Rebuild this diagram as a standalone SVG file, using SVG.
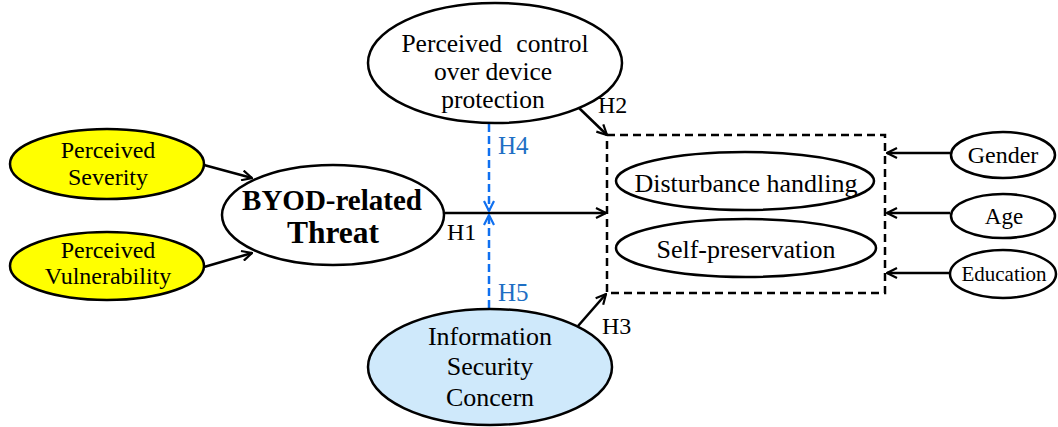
<svg xmlns="http://www.w3.org/2000/svg" width="1058" height="427" viewBox="0 0 1058 427" font-family="'Liberation Serif', Tinos, 'Times New Roman', serif">
<style>
text{font-family:'Liberation Serif',Tinos,'Times New Roman',serif;fill:#000;text-anchor:middle}
.n{stroke:#000;stroke-width:2.5}
.w{fill:#fff}
.y{fill:#ffff00}
.b{fill:#cfe9fb}
.c{stroke:#000;stroke-width:2.5;fill:none}
.d{stroke:#1070f0;stroke-width:2.5;fill:none;stroke-dasharray:8,4}
.lab{font-size:24px}
.blab{font-size:25px;fill:#1e6fc4;text-anchor:start}
</style>
<defs>
<marker id="a" viewBox="0 0 12 12" refX="11" refY="6" markerWidth="12" markerHeight="12" markerUnits="userSpaceOnUse" orient="auto">
<path d="M1,1 L11,6 L1,11" fill="none" stroke="#000" stroke-width="2.2"/>
</marker>
<marker id="ab" viewBox="0 0 12 12" refX="11" refY="6" markerWidth="12" markerHeight="12" markerUnits="userSpaceOnUse" orient="auto">
<path d="M1,1 L11,6 L1,11" fill="none" stroke="#1070f0" stroke-width="2.2"/>
</marker>
</defs>
<g id="connectors">
<line class="c" x1="204" y1="165" x2="252" y2="178" marker-end="url(#a)"/>
<line class="c" x1="204" y1="267" x2="252" y2="253" marker-end="url(#a)"/>
<line class="c" x1="445" y1="213" x2="606" y2="213" marker-end="url(#a)"/>
<line class="c" x1="578" y1="107" x2="607" y2="135" marker-end="url(#a)"/>
<line class="c" x1="578" y1="326" x2="606" y2="294" marker-end="url(#a)"/>
<line class="c" x1="950" y1="153" x2="887" y2="153" marker-end="url(#a)"/>
<line class="c" x1="950" y1="213" x2="887" y2="213" marker-end="url(#a)"/>
<line class="c" x1="950" y1="273" x2="887" y2="273" marker-end="url(#a)"/>
<line class="d" x1="489" y1="124" x2="489" y2="211" marker-end="url(#ab)"/>
<line class="d" x1="489" y1="308" x2="489" y2="215" marker-end="url(#ab)"/>
<text class="lab" x="447" y="240" style="text-anchor:start">H1</text>
<text class="lab" x="598" y="113" style="text-anchor:start">H2</text>
<text class="lab" x="602" y="334" style="text-anchor:start">H3</text>
<text class="blab" x="498" y="154">H4</text>
<text class="blab" x="498" y="301">H5</text>
</g>
<g id="outcomes-box">
<rect x="607" y="135" width="278" height="158" fill="none" stroke="#000" stroke-width="2.5" stroke-dasharray="8,5"/>
</g>
<g id="severity">
<ellipse class="n y" cx="107" cy="164" rx="97" ry="35"/>
<text x="108" y="158" font-size="24">Perceived</text>
<text x="108" y="185" font-size="24">Severity</text>
</g>
<g id="vulnerability">
<ellipse class="n y" cx="107" cy="266" rx="97" ry="34"/>
<text x="108" y="258" font-size="24">Perceived</text>
<text x="108" y="284" font-size="24">Vulnerability</text>
</g>
<g id="threat">
<ellipse class="n w" cx="333" cy="215" rx="111" ry="50"/>
<text x="332" y="210" font-size="29" font-weight="bold">BYOD-related</text>
<text x="333" y="243" font-size="31.5" font-weight="bold">Threat</text>
</g>
<g id="control">
<ellipse class="n w" cx="495" cy="63" rx="127" ry="60"/>
<text x="495" y="52" font-size="25.5" word-spacing="8">Perceived control</text>
<text x="493" y="80" font-size="25.5">over device</text>
<text x="493" y="108" font-size="25.5">protection</text>
</g>
<g id="concern">
<ellipse class="n b" cx="490" cy="367" rx="122" ry="58"/>
<text x="490" y="345" font-size="26">Information</text>
<text x="490" y="375" font-size="26">Security</text>
<text x="490" y="406" font-size="26">Concern</text>
</g>
<g id="disturbance">
<ellipse class="n w" cx="745" cy="181" rx="129" ry="29"/>
<text x="746" y="192" font-size="26">Disturbance handling</text>
</g>
<g id="selfpres">
<ellipse class="n w" cx="746" cy="248" rx="130" ry="29"/>
<text x="746" y="258" font-size="26">Self-preservation</text>
</g>
<g id="gender">
<ellipse class="n w" cx="1003" cy="155" rx="52" ry="23"/>
<text x="1003" y="163" font-size="24">Gender</text>
</g>
<g id="age">
<ellipse class="n w" cx="1003" cy="216" rx="52" ry="22"/>
<text x="1004" y="224" font-size="23">Age</text>
</g>
<g id="education">
<ellipse class="n w" cx="1003" cy="274" rx="53" ry="24"/>
<text x="1004" y="281" font-size="21">Education</text>
</g>
</svg>
